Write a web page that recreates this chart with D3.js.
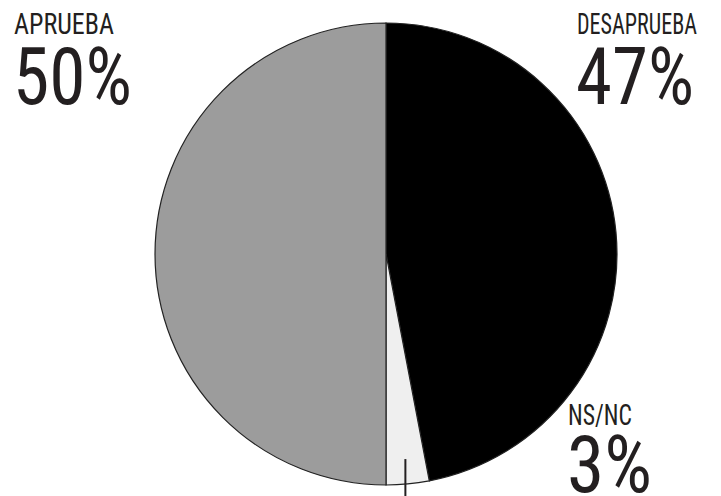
<!DOCTYPE html>
<html><head><meta charset="utf-8">
<script src="https://cdn.jsdelivr.net/npm/d3@7"></script>
<style>body{margin:0;background:#fff}svg{display:block}text{font-family:"Liberation Sans Narrow","Roboto Condensed","DejaVu Sans Condensed",Roboto,sans-serif;fill:#231f20}</style>
</head><body>
<script>
const categories = ["DESAPRUEBA", "NS/NC", "APRUEBA"];
const values = [47, 3, 50];
const labels = ["47%", "3%", "50%"];
const colors = ["#0a0a0a", "#efefef", "#9c9c9c"];

const W = 721, H = 496;
const svg = d3.select("body").append("svg").attr("width", W).attr("height", H);
const defs = svg.append("defs");
const g1 = defs.append("radialGradient").attr("id","dark").attr("gradientUnits","userSpaceOnUse")
  .attr("cx",386).attr("cy",254).attr("r",231);
g1.append("stop").attr("offset","0%").attr("stop-color","#000");
g1.append("stop").attr("offset","80%").attr("stop-color","#1c1c1c");
g1.append("stop").attr("offset","100%").attr("stop-color","#000");

const cx = 386, cy = 254, R = 231;
const pie = d3.pie().sort(null).value(d => d)(values);
const arc = d3.arc().innerRadius(0).outerRadius(R);
const gp = svg.append("g").attr("transform", `translate(${cx},${cy})`);
gp.selectAll("path").data(pie).enter().append("path")
  .attr("d", arc)
  .attr("fill", (d,i) => i === 0 ? "url(#dark)" : colors[i])
  .attr("stroke", "#222").attr("stroke-width", 1.2);

// leader tick for NS/NC
const a = (pie[1].startAngle + pie[1].endAngle) / 2;
svg.append("line").attr("x1", cx + Math.sin(a)*(R-25)).attr("x2", cx + Math.sin(a)*(R-25))
  .attr("y1", cy - Math.cos(a)*(R-25)).attr("y2", H).attr("stroke","#231f20").attr("stroke-width",2);

const pos = [[577, 34, 104], [568, 425, 492], [14, 34, 104]];
const catW = [120, 64, 100];
const labW = [118, 85, 119];
categories.forEach((c, i) => {
  svg.append("text").attr("x", pos[i][0]).attr("y", pos[i][1]).attr("font-size", 29)
    .attr("textLength", catW[i]).attr("lengthAdjust", "spacingAndGlyphs").text(c);
  svg.append("text").attr("x", pos[i][0] - 1).attr("y", pos[i][2]).attr("font-size", 80)
    .attr("textLength", labW[i]).attr("lengthAdjust", "spacingAndGlyphs").text(labels[i]);
});
</script>
</body></html>
